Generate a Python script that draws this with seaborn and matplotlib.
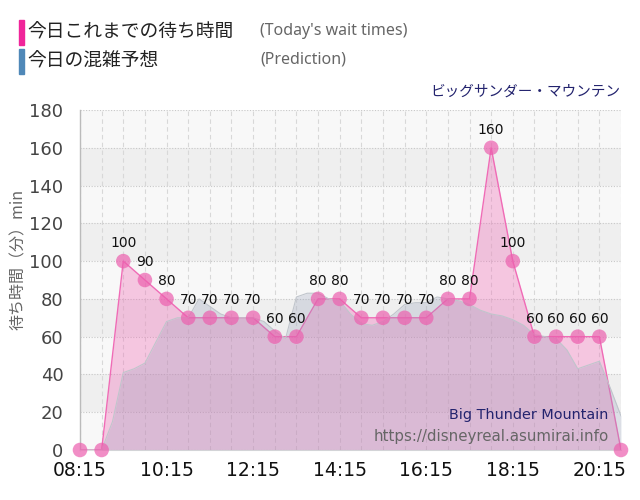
import matplotlib
matplotlib.use("Agg")
import matplotlib.pyplot as plt
from matplotlib.patches import Rectangle
import numpy as np
import pandas as pd
import seaborn as sns

# ---------------- data ----------------
actual_times = ["08:15", "08:45", "09:15", "09:45", "10:15", "10:45", "11:15", "11:45",
                "12:15", "12:45", "13:15", "13:45", "14:15", "14:45", "15:15", "15:45",
                "16:15", "16:45", "17:15", "17:45", "18:15", "18:45", "19:15", "19:45",
                "20:15", "20:45"]
actual_wait = [0, 0, 100, 90, 80, 70, 70, 70, 70, 60, 60, 80, 80, 70, 70, 70,
               70, 80, 80, 160, 100, 60, 60, 60, 60, 0]

pred_times = ["08:15", "08:30", "08:45", "09:00", "09:15", "09:30", "09:45", "10:00",
              "10:15", "10:30", "10:45", "11:00", "11:15", "11:30", "11:45", "12:00",
              "12:15", "12:30", "12:45", "13:00", "13:15", "13:30", "13:45", "14:00",
              "14:15", "14:30", "14:45", "15:00", "15:15", "15:30", "15:45", "16:00",
              "16:15", "16:30", "16:45", "17:00", "17:15", "17:30", "17:45", "18:00",
              "18:15", "18:30", "18:45", "19:00", "19:15", "19:30", "19:45", "20:00",
              "20:15", "20:30", "20:45"]
pred_wait = [0, 0, 0, 15, 41, 43, 46, 57, 68, 70, 70, 80, 76, 72, 70, 70,
             70, 68, 63, 59, 81, 83, 83, 80, 79, 72, 67, 66, 68, 72, 77, 78,
             78, 81, 80, 79, 77, 74, 72, 71, 69, 66, 61, 60, 59, 53, 43, 45,
             47, 33, 18]

xtick_labels = ["08:15", "10:15", "12:15", "14:15", "16:15", "18:15", "20:15"]
ytick_values = [0, 20, 40, 60, 80, 100, 120, 140, 160, 180]

legend_jp = ["今日これまでの待ち時間", "今日の混雑予想"]
legend_en = ["(Today's wait times)", "(Prediction)"]
ride_jp = "ビッグサンダー・マウンテン"
ride_en = "Big Thunder Mountain"
url_text = "https://disneyreal.asumirai.info"
ylabel_text = "待ち時間（分）min"

# ---------------- helpers ----------------
START = 8 * 60 + 15


def to_min(t):
    h, m = t.split(":")
    return int(h) * 60 + int(m) - START


df_act = pd.DataFrame({"t": [to_min(t) for t in actual_times], "wait": actual_wait})
df_pred = pd.DataFrame({"t": [to_min(t) for t in pred_times], "wait": pred_wait})

sns.set_style("white")
CJK = ["Noto Sans CJK JP", "DejaVu Sans"]
plt.rcParams["font.family"] = ["DejaVu Sans"]

fig = plt.figure(figsize=(6.4, 5.0), dpi=100)
ax = fig.add_axes([80 / 640, 50 / 500, 541 / 640, 340 / 500])

# background bands
ax.set_facecolor("#f8f8f8")
for lo in [20, 60, 100, 140]:
    ax.axhspan(lo, lo + 20, color="#efefef", lw=0, zorder=0)

# actual series fill + line
ax.fill_between(df_act["t"], df_act["wait"], color="#f06bb6", alpha=0.35, lw=0, zorder=2)
sns.lineplot(data=df_act, x="t", y="wait", ax=ax, color="#f06bb6", lw=1.0, zorder=3)

# prediction area
ax.fill_between(df_pred["t"], df_pred["wait"], color="#909bb6", alpha=0.26, lw=0, zorder=4)
sns.lineplot(data=df_pred, x="t", y="wait", ax=ax, color="#c0c5cc", lw=0.8, zorder=4)

# markers
sns.scatterplot(data=df_act, x="t", y="wait", ax=ax, s=110, color="#ec5fae",
                alpha=0.7, edgecolor="none", zorder=6, clip_on=False)

for t, w in zip(df_act["t"], df_act["wait"]):
    if w > 0:
        ax.annotate(str(w), (t, w), xytext=(0, 13), textcoords="offset points",
                    ha="center", va="center", fontsize=10, color="#111111", zorder=7)

# axes
ax.set_xlim(0, 750)
ax.set_ylim(0, 180)
ax.set_xticks([to_min(t) for t in xtick_labels])
ax.set_xticklabels(xtick_labels)
ax.set_xticks(np.arange(0, 751, 30), minor=True)
ax.set_yticks(ytick_values)
ax.set_yticklabels([str(v) for v in ytick_values])
ax.set_xlabel("")
ax.set_ylabel("")

ax.yaxis.grid(True, linestyle=(0, (1, 1.5)), color="#c8c8c8", lw=0.8, zorder=1)
ax.xaxis.grid(True, which="both", linestyle=(0, (4, 3)), color="#d8d8d8", lw=0.8, zorder=1)
ax.set_axisbelow(True)

for s in ["top", "right"]:
    ax.spines[s].set_visible(False)
ax.spines["left"].set_color("#bbbbbb")
ax.spines["left"].set_linewidth(1.0)
ax.spines["bottom"].set_color("#dddddd")

ax.tick_params(axis="y", length=9, color="#dddddd", labelcolor="#444444",
               labelsize=13, pad=3)
ax.tick_params(axis="x", which="major", length=4, color="#dddddd",
               labelcolor="#111111", labelsize=13.5, pad=4)
ax.tick_params(axis="x", which="minor", length=0)

# header legend
fig.patches.append(Rectangle((19 / 640, 1 - 45 / 500), 5 / 640, 25 / 500,
                             transform=fig.transFigure, color="#f0259a", zorder=5))
fig.patches.append(Rectangle((19 / 640, 1 - 74 / 500), 5 / 640, 25 / 500,
                             transform=fig.transFigure, color="#4f88b8", zorder=5))
fig.text(27 / 640, 1 - 32 / 500, legend_jp[0], fontsize=13.5, va="center", ha="left",
         family=CJK, color="#222222")
fig.text(27 / 640, 1 - 61 / 500, legend_jp[1], fontsize=13.5, va="center", ha="left",
         family=CJK, color="#222222")
fig.text(260 / 640, 1 - 31 / 500, legend_en[0], fontsize=11.5, va="center", ha="left",
         family=["Noto Sans", "DejaVu Sans"], color="#666666")
fig.text(260 / 640, 1 - 60 / 500, legend_en[1], fontsize=11.5, va="center", ha="left",
         family=["Noto Sans", "DejaVu Sans"], color="#666666")

fig.text(620 / 640, 1 - 92 / 500, ride_jp, fontsize=10.5, va="center", ha="right",
         family=CJK, color="#23236e")
fig.text(608 / 640, 1 - 415 / 500, ride_en, fontsize=10.4, va="center", ha="right",
         color="#23236e", zorder=10)
fig.text(609 / 640, 1 - 436 / 500, url_text, fontsize=10.8, va="center", ha="right",
         color="#666666", zorder=10)

fig.text(18 / 640, 1 - 259 / 500, ylabel_text, rotation=90, va="center", ha="center",
         fontsize=11.5, family=CJK, color="#666666")

fig.savefig("out.png", dpi=100)
